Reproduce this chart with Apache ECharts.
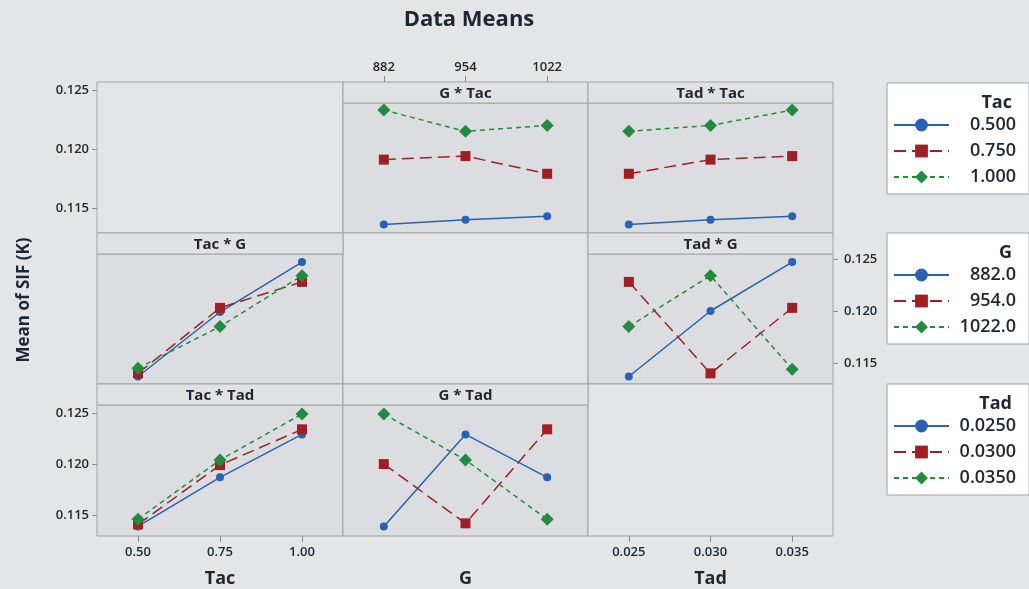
<!DOCTYPE html>
<html>
<head>
<meta charset="utf-8">
<title>Data Means</title>
<script src="https://cdn.jsdelivr.net/npm/echarts@6/dist/echarts.min.js"></script>
<style>
  html, body { margin: 0; padding: 0; background: #e4e5e7; }
  #chart { width: 1029px; height: 589px; }
</style>
</head>
<body>
<div id="chart"></div>
<script>
// --- factor levels (x axes) ---
const tacLevels = ['0.50', '0.75', '1.00'];
const gLevels = ['882', '954', '1022'];
const tadLevels = ['0.025', '0.030', '0.035'];

// --- trace names (legends) ---
const tacNames = ['0.500', '0.750', '1.000'];
const gNames = ['882.0', '954.0', '1022.0'];
const tadNames = ['0.0250', '0.0300', '0.0350'];

// --- means, one row per trace level ---
const gByTac = [[0.1136, 0.1140, 0.1143], [0.1191, 0.1194, 0.1179], [0.1233, 0.1215, 0.1220]];
const tadByTac = [[0.1136, 0.1140, 0.1143], [0.1179, 0.1191, 0.1194], [0.1215, 0.1220, 0.1233]];
const tacByG = [[0.1137, 0.1199, 0.1247], [0.1140, 0.1203, 0.1228], [0.1145, 0.1185, 0.1234]];
const tadByG = [[0.1137, 0.1200, 0.1247], [0.1228, 0.1140, 0.1203], [0.1185, 0.1234, 0.1144]];
const tacByTad = [[0.1139, 0.1187, 0.1229], [0.1141, 0.1199, 0.1234], [0.1146, 0.1204, 0.1249]];
const gByTad = [[0.1139, 0.1229, 0.1187], [0.1200, 0.1142, 0.1234], [0.1249, 0.1204, 0.1146]];

const yTicks = [0.115, 0.120, 0.125];

// --- layout ---
const FONT = "'Open Sans', 'Noto Sans', sans-serif";
const TXT = '#1d2733';
const BORDER = '#a3a3a3';
const HEAD = 21;
const cols = [{ x: 97, w: 246 }, { x: 343, w: 245 }, { x: 588, w: 245 }];
const rows = [{ y: 82, h: 151 }, { y: 233, h: 151 }, { y: 384, h: 153 }];
// y range of each row's data area (below the header strip)
const rowRange = [[0.11288, 0.12390], [0.11298, 0.12548], [0.11296, 0.12578]];

const colors = ['#2862b0', '#9e2024', '#238b3e'];
const symbols = ['circle', 'rect', 'diamond'];
const symSizes = [8, 10, 13];
const dashes = ['solid', [12, 6], [5, 4]];

const panels = [
  { r: 0, c: 0, empty: true },
  { r: 0, c: 1, title: 'G * Tac', x: gLevels, names: tacNames, data: gByTac },
  { r: 0, c: 2, title: 'Tad * Tac', x: tadLevels, names: tacNames, data: tadByTac },
  { r: 1, c: 0, title: 'Tac * G', x: tacLevels, names: gNames, data: tacByG },
  { r: 1, c: 1, empty: true },
  { r: 1, c: 2, title: 'Tad * G', x: tadLevels, names: gNames, data: tadByG },
  { r: 2, c: 0, title: 'Tac * Tad', x: tacLevels, names: tadNames, data: tacByTad },
  { r: 2, c: 1, title: 'G * Tad', x: gLevels, names: tadNames, data: gByTad },
  { r: 2, c: 2, empty: true },
];

const tickLabel = { fontFamily: FONT, fontSize: 13, fontWeight: 600, color: TXT };
const tickLine = { lineStyle: { color: '#8c8c8c' } };

const grid = [], xAxis = [], yAxis = [], series = [], graphic = [];

panels.forEach((p, i) => {
  const col = cols[p.c], row = rows[p.r];
  const top = p.empty ? row.y : row.y + HEAD;
  grid.push({
    left: col.x, top: top, width: col.w, height: row.y + row.h - top,
    show: true, backgroundColor: p.empty ? '#e3e4e6' : '#dcdde0',
    borderColor: BORDER, borderWidth: 1,
  });

  // y range: the empty top-left panel carries the row-0 axis over the full panel height
  let ymin = rowRange[p.r][0], ymax = rowRange[p.r][1];
  if (i === 0) ymax = ymin + (ymax - ymin) * row.h / (row.h - HEAD);

  xAxis.push({
    type: 'category', gridIndex: i, data: p.x || tadLevels, boundaryGap: true,
    axisLine: { show: false }, axisTick: { show: false }, axisLabel: { show: false },
  });
  yAxis.push({
    type: 'value', gridIndex: i, min: ymin, max: ymax,
    axisLine: { show: false }, axisTick: { show: false }, axisLabel: { show: false },
    splitLine: { show: false },
  });

  if (!p.empty) {
    graphic.push({
      type: 'rect', shape: { x: col.x, y: row.y, width: col.w, height: HEAD },
      style: { fill: '#e1e2e4', stroke: BORDER, lineWidth: 1 }, z: 10,
    });
    graphic.push({
      type: 'text', x: col.x + col.w / 2, y: row.y + HEAD / 2 + 1, z: 11,
      style: { text: p.title, font: `bold 15px ${FONT}`, fill: TXT, textAlign: 'center', textVerticalAlign: 'middle' },
    });
    p.data.forEach((vals, k) => {
      series.push({
        name: p.names[k], type: 'line', xAxisIndex: i, yAxisIndex: i, data: vals,
        symbol: symbols[k], symbolSize: symSizes[k],
        itemStyle: { color: colors[k] },
        lineStyle: { color: colors[k], width: 1.5, type: dashes[k] },
        emphasis: { disabled: true }, silent: true,
      });
    });
  }
});

// labelled axes
const yLabelAxis = (ax, pos) => Object.assign(ax, {
  position: pos,
  axisTick: Object.assign({ show: true, length: 5, customValues: yTicks }, tickLine),
  axisLabel: Object.assign({ show: true, margin: pos === 'right' ? 11 : 8, customValues: yTicks, formatter: v => v.toFixed(3) }, tickLabel),
});
yLabelAxis(yAxis[0], 'left');
yLabelAxis(yAxis[5], 'right');
yLabelAxis(yAxis[6], 'left');

// G on top of G * Tac
Object.assign(xAxis[1], {
  position: 'top', offset: HEAD,
  axisTick: Object.assign({ show: true, length: 6, alignWithLabel: true }, tickLine),
  axisLabel: Object.assign({ show: true, margin: 8 }, tickLabel),
});
const nameStyle = { fontFamily: FONT, fontSize: 18, fontWeight: 'bold', color: TXT };
// Tac and Tad along the bottom
[[6, 'Tac'], [8, 'Tad']].forEach(([i, n]) => Object.assign(xAxis[i], {
  position: 'bottom', name: n, nameLocation: 'middle', nameGap: 34, nameTextStyle: nameStyle,
  axisTick: Object.assign({ show: true, length: 6, alignWithLabel: true }, tickLine),
  axisLabel: Object.assign({ show: true, margin: 10 }, tickLabel),
}));
Object.assign(xAxis[7], { position: 'bottom', name: 'G', nameLocation: 'middle', nameGap: 34, nameTextStyle: nameStyle });

graphic.push({
  type: 'text', x: 24, y: 300, rotation: Math.PI / 2,
  style: { text: 'Mean of SIF (K)', font: `bold 17px ${FONT}`, fill: TXT, textAlign: 'center', textVerticalAlign: 'middle' },
});

// legends, one per trace factor
const legendDefs = [
  { title: 'Tac', names: tacNames, top: 83 },
  { title: 'G', names: gNames, top: 233 },
  { title: 'Tad', names: tadNames, top: 384 },
];
const legend = legendDefs.map(d => ({
  data: d.names, orient: 'vertical', left: 887, top: d.top,
  padding: [33, 13, 8, 6], itemWidth: 55, itemHeight: 16, itemGap: 8,
  backgroundColor: '#ffffff', borderColor: BORDER, borderWidth: 1, borderRadius: 0,
  selectedMode: false,
  lineStyle: { width: 2 },
  formatter: n => '{v|' + n + '}',
  textStyle: { rich: { v: { width: 62, align: 'right', fontFamily: FONT, fontSize: 18, fontWeight: 600, color: TXT, lineHeight: 18 } } },
}));

const title = [{
  text: 'Data Means', left: 464, top: 4, textAlign: 'center',
  textStyle: { fontFamily: FONT, fontSize: 22, fontWeight: 'bold', color: TXT },
}].concat(legendDefs.map(d => ({
  text: d.title, right: 12, top: d.top + 6,
  textStyle: { fontFamily: FONT, fontSize: 18, fontWeight: 'bold', color: TXT },
})));

const chart = echarts.init(document.getElementById('chart'));
chart.setOption({
  animation: false,
  backgroundColor: '#e4e5e7',
  title, legend, grid, xAxis, yAxis, series, graphic,
});
</script>
</body>
</html>
